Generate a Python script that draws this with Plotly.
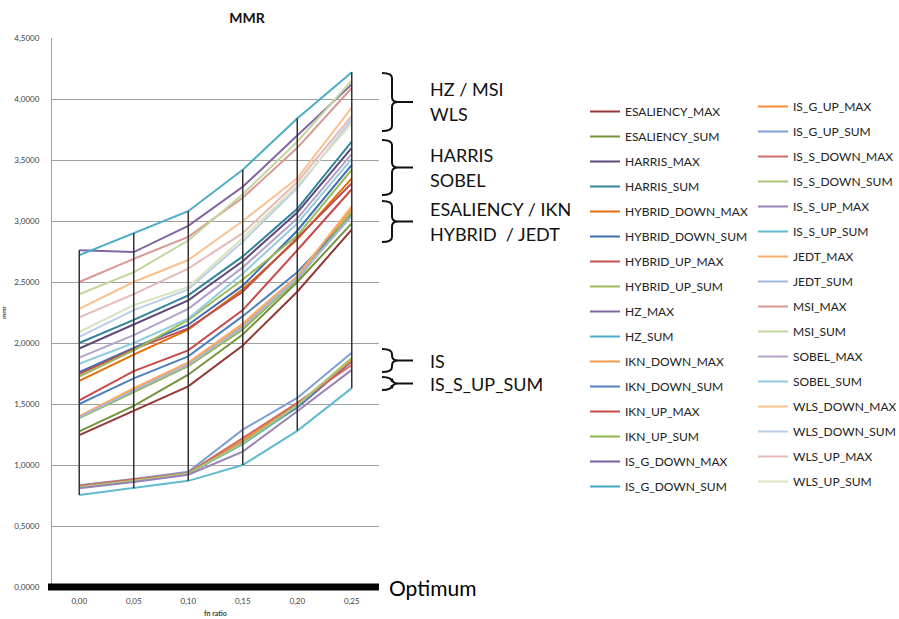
import plotly.graph_objects as go

# fn ratio categories
fn_ratio = [0.00, 0.05, 0.10, 0.15, 0.20, 0.25]

# series names (legend order)
names = [
    "ESALIENCY_MAX", "ESALIENCY_SUM", "HARRIS_MAX", "HARRIS_SUM",
    "HYBRID_DOWN_MAX", "HYBRID_DOWN_SUM", "HYBRID_UP_MAX", "HYBRID_UP_SUM",
    "HZ_MAX", "HZ_SUM", "IKN_DOWN_MAX", "IKN_DOWN_SUM",
    "IKN_UP_MAX", "IKN_UP_SUM", "IS_G_DOWN_MAX", "IS_G_DOWN_SUM",
    "IS_G_UP_MAX", "IS_G_UP_SUM", "IS_S_DOWN_MAX", "IS_S_DOWN_SUM",
    "IS_S_UP_MAX", "IS_S_UP_SUM", "JEDT_MAX", "JEDT_SUM",
    "MSI_MAX", "MSI_SUM", "SOBEL_MAX", "SOBEL_SUM",
    "WLS_DOWN_MAX", "WLS_DOWN_SUM", "WLS_UP_MAX", "WLS_UP_SUM",
]

# mmr values per series
ESALIENCY_MAX   = [1.245, 1.445, 1.645, 1.98, 2.42, 2.93]
ESALIENCY_SUM   = [1.275, 1.485, 1.74, 2.07, 2.50, 2.98]
HARRIS_MAX      = [1.955, 2.155, 2.35, 2.67, 3.07, 3.60]
HARRIS_SUM      = [2.00, 2.19, 2.39, 2.71, 3.10, 3.65]
HYBRID_DOWN_MAX = [1.69, 1.905, 2.11, 2.44, 2.85, 3.35]
HYBRID_DOWN_SUM = [1.76, 1.96, 2.15, 2.47, 2.92, 3.46]
HYBRID_UP_MAX   = [1.745, 1.95, 2.12, 2.42, 2.86, 3.31]
HYBRID_UP_SUM   = [1.725, 1.94, 2.19, 2.52, 2.88, 3.42]
HZ_MAX          = [2.76, 2.745, 2.96, 3.28, 3.70, 4.12]
HZ_SUM          = [2.72, 2.90, 3.08, 3.42, 3.84, 4.22]
IKN_DOWN_MAX    = [1.395, 1.62, 1.83, 2.14, 2.54, 3.10]
IKN_DOWN_SUM    = [1.50, 1.71, 1.89, 2.22, 2.58, 3.05]
IKN_UP_MAX      = [1.53, 1.77, 1.94, 2.27, 2.76, 3.26]
IKN_UP_SUM      = [1.385, 1.60, 1.81, 2.11, 2.52, 3.07]
IS_G_DOWN_MAX   = [0.815, 0.865, 0.925, 1.19, 1.47, 1.85]
IS_G_DOWN_SUM   = [0.82, 0.87, 0.93, 1.17, 1.48, 1.87]
IS_G_UP_MAX     = [0.825, 0.875, 0.93, 1.20, 1.50, 1.86]
IS_G_UP_SUM     = [0.835, 0.885, 0.945, 1.29, 1.55, 1.92]
IS_S_DOWN_MAX   = [0.83, 0.88, 0.935, 1.22, 1.51, 1.82]
IS_S_DOWN_SUM   = [0.82, 0.87, 0.93, 1.18, 1.49, 1.88]
IS_S_UP_MAX     = [0.81, 0.86, 0.92, 1.11, 1.44, 1.78]
IS_S_UP_SUM     = [0.755, 0.81, 0.87, 1.00, 1.28, 1.63]
JEDT_MAX        = [1.40, 1.63, 1.84, 2.16, 2.55, 3.12]
JEDT_SUM        = [1.39, 1.61, 1.82, 2.13, 2.53, 3.04]
MSI_MAX         = [2.50, 2.69, 2.87, 3.19, 3.60, 4.09]
MSI_SUM         = [2.40, 2.58, 2.84, 3.22, 3.65, 4.15]
SOBEL_MAX       = [1.88, 2.065, 2.28, 2.62, 3.02, 3.55]
SOBEL_SUM       = [1.83, 2.00, 2.20, 2.57, 2.98, 3.51]
WLS_DOWN_MAX    = [2.28, 2.50, 2.68, 3.00, 3.35, 3.93]
WLS_DOWN_SUM    = [2.05, 2.27, 2.44, 2.83, 3.27, 3.83]
WLS_UP_MAX      = [2.21, 2.40, 2.61, 2.90, 3.32, 3.86]
WLS_UP_SUM      = [2.09, 2.31, 2.46, 2.86, 3.29, 3.80]

series = [
    ESALIENCY_MAX, ESALIENCY_SUM, HARRIS_MAX, HARRIS_SUM,
    HYBRID_DOWN_MAX, HYBRID_DOWN_SUM, HYBRID_UP_MAX, HYBRID_UP_SUM,
    HZ_MAX, HZ_SUM, IKN_DOWN_MAX, IKN_DOWN_SUM,
    IKN_UP_MAX, IKN_UP_SUM, IS_G_DOWN_MAX, IS_G_DOWN_SUM,
    IS_G_UP_MAX, IS_G_UP_SUM, IS_S_DOWN_MAX, IS_S_DOWN_SUM,
    IS_S_UP_MAX, IS_S_UP_SUM, JEDT_MAX, JEDT_SUM,
    MSI_MAX, MSI_SUM, SOBEL_MAX, SOBEL_SUM,
    WLS_DOWN_MAX, WLS_DOWN_SUM, WLS_UP_MAX, WLS_UP_SUM,
]

colors = [
    "#953735", "#76923C", "#5F497A", "#31859C", "#E46C0A", "#3F6DB0",
    "#C0504D", "#9BBB59", "#8064A2", "#4BACC6", "#F79646", "#4F81BD",
    "#C84A47", "#8DB54A", "#7A5AA0", "#3FA8C4", "#F78C3A", "#7C9FD3",
    "#D16B68", "#A9C772", "#9983B5", "#62BAD0", "#F9AB6B", "#A5B9DD",
    "#D99694", "#C3D69B", "#B3A2C7", "#93CDDD", "#FAC090", "#B9CDE5",
    "#E6B9B8", "#D7E4BD",
]

# group annotations: (label lines, brace top, brace bottom)
group_labels = [
    (["HZ / MSI", "WLS"], 4.213, 3.738),
    (["HARRIS", "SOBEL"], 3.664, 3.213),
    (["ESALIENCY / IKN", "HYBRID\u00a0 / JEDT"], 3.164, 2.828),
    (["IS"], 1.951, 1.762),
    (["IS_S_UP_SUM"], 1.721, 1.615),
]

FONT = "Lato"
L, R, T, B = 52, 520, 38, 32
W, H = 899, 619
PW = W - L - R


def px_to_paper_x(px):
    return (px - L) / PW


fig = go.Figure()

for i, (name, vals, col) in enumerate(zip(names, series, colors)):
    fig.add_trace(go.Scatter(
        x=fn_ratio, y=vals, mode="lines", name=name,
        line=dict(color=col, width=2),
        legend="legend" if i < 16 else "legend2",
        legendgroup=name,
    ))

# high-low lines spanning all series at each fn ratio
hl_x, hl_y = [], []
for j, xv in enumerate(fn_ratio):
    col_vals = [s[j] for s in series]
    hl_x += [xv, xv, None]
    hl_y += [min(col_vals), max(col_vals), None]
fig.add_trace(go.Scatter(
    x=hl_x, y=hl_y, mode="lines", showlegend=False, hoverinfo="skip",
    line=dict(color="#333333", width=1.5),
))

shapes = []
annotations = []

# braces with labels on the right side
xa, xs, xt, xe = (px_to_paper_x(v) for v in (382, 392, 398, 413))
ry = 5 / 122.0
for lines, top, bot in group_labels:
    mid = (top + bot) / 2
    path = (
        f"M{xa},{top} Q{xs},{top} {xs},{top - ry} "
        f"L{xs},{mid + ry} Q{xs},{mid} {xt},{mid} "
        f"Q{xs},{mid} {xs},{mid - ry} "
        f"L{xs},{bot + ry} Q{xs},{bot} {xa},{bot} "
        f"M{xt},{mid} L{xe},{mid}"
    )
    shapes.append(dict(type="path", path=path, xref="paper", yref="y",
                       line=dict(color="#111111", width=2)))
    n = len(lines)
    step = 0.205
    for k, txt in enumerate(lines):
        yv = mid + (n - 1) / 2 * step - k * step
        annotations.append(dict(
            text=txt, x=px_to_paper_x(428), y=yv, xref="paper", yref="y",
            xanchor="left", yanchor="middle", showarrow=False,
            font=dict(family=FONT, size=18, color="#111111"),
        ))

# optimum baseline (paper y=0 is the zero of the value axis)
shapes.append(dict(type="line", xref="paper", yref="paper",
                   x0=px_to_paper_x(48), x1=1.0, y0=0, y1=0,
                   line=dict(color="#000000", width=7)))
annotations.append(dict(
    text="Optimum", x=px_to_paper_x(387), y=0, xref="paper", yref="paper",
    xanchor="left", yanchor="middle", showarrow=False,
    font=dict(family=FONT, size=21, color="#000000"),
))

legend_common = dict(
    xref="container", yref="container", xanchor="left", yanchor="top",
    font=dict(family=FONT, size=12, color="#222222"),
    bgcolor="rgba(0,0,0,0)", borderwidth=0, maxheight=600,
    traceorder="grouped", tracegroupgap=6, itemwidth=30,
)

fig.update_layout(
    width=W, height=H,
    margin=dict(l=L, r=R, t=T, b=B),
    paper_bgcolor="white", plot_bgcolor="white",
    separators=",.",
    font=dict(family=FONT, color="#404040"),
    title=dict(text="<b>MMR</b>", x=247 / W, xref="container", xanchor="center",
               y=1 - 18 / H, yref="container", yanchor="middle",
               font=dict(family=FONT, size=14, color="#111111")),
    showlegend=True,
    legend=dict(x=585 / W, y=1 - 97 / H, **legend_common),
    legend2=dict(x=753 / W, y=1 - 92 / H, **legend_common),
    shapes=shapes,
    annotations=annotations,
    xaxis=dict(
        range=[-0.025, 0.275], tickvals=fn_ratio, tickformat=".2f",
        showgrid=False, zeroline=False, showline=False, automargin=False,
        tickfont=dict(family=FONT, size=8, color="#404040"),
        ticks="", ticklabelstandoff=8,
        title=dict(text="<b>fn ratio</b>", standoff=6,
                   font=dict(family=FONT, size=7, color="#404040")),
    ),
    yaxis=dict(
        range=[0, 4.5], dtick=0.5, tickformat=".4f", automargin=False,
        showgrid=True, gridcolor="#A0A0A0", gridwidth=1,
        zeroline=False, showline=True, linecolor="#A0A0A0", linewidth=1,
        tickfont=dict(family=FONT, size=8, color="#404040"),
        ticks="", ticklabelstandoff=10,
        title=dict(text="<b>mmr</b>", standoff=8,
                   font=dict(family=FONT, size=6, color="#404040")),
    ),
)

fig.write_html("out.html")
